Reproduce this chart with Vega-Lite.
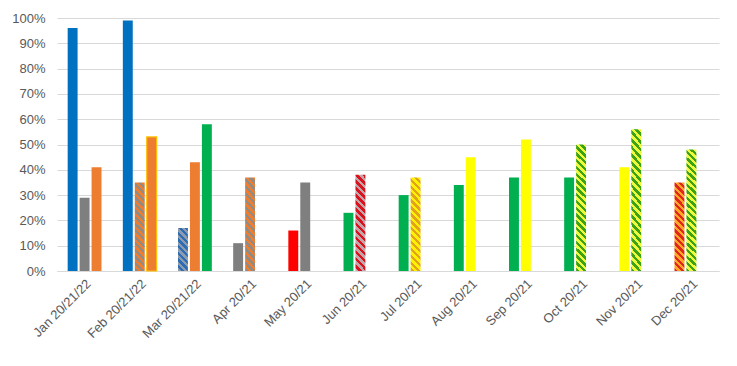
{
  "$schema": "https://vega.github.io/schema/vega-lite/v6.json",
  "width": 662,
  "height": 253,
  "autosize": "none",
  "padding": {"left": 57, "top": 18, "right": 18, "bottom": 95},
  "background": "white",
  "config": {"view": {"stroke": null}, "font": "Liberation Sans"},
  "data": {
    "values": [
      {"month": "Jan 20/21/22", "year": "2020", "value": 0.96, "pattern": "blue"},
      {"month": "Jan 20/21/22", "year": "2021", "value": 0.29, "pattern": "grey"},
      {"month": "Jan 20/21/22", "year": "2022", "value": 0.41, "pattern": "orange"},
      {"month": "Feb 20/21/22", "year": "2020", "value": 0.99, "pattern": "blue"},
      {"month": "Feb 20/21/22", "year": "2021", "value": 0.35, "pattern": "og"},
      {"month": "Feb 20/21/22", "year": "2022", "value": 0.53, "pattern": "orange-outline"},
      {"month": "Mar 20/21/22", "year": "2020", "value": 0.17, "pattern": "bg"},
      {"month": "Mar 20/21/22", "year": "2021", "value": 0.43, "pattern": "orange"},
      {"month": "Mar 20/21/22", "year": "2022", "value": 0.58, "pattern": "green"},
      {"month": "Apr 20/21", "year": "2020", "value": 0.11, "pattern": "grey"},
      {"month": "Apr 20/21", "year": "2021", "value": 0.37, "pattern": "og"},
      {"month": "May 20/21", "year": "2020", "value": 0.16, "pattern": "red"},
      {"month": "May 20/21", "year": "2021", "value": 0.35, "pattern": "grey"},
      {"month": "Jun 20/21", "year": "2020", "value": 0.23, "pattern": "green"},
      {"month": "Jun 20/21", "year": "2021", "value": 0.38, "pattern": "rg"},
      {"month": "Jul 20/21", "year": "2020", "value": 0.30, "pattern": "green"},
      {"month": "Jul 20/21", "year": "2021", "value": 0.37, "pattern": "yo"},
      {"month": "Aug 20/21", "year": "2020", "value": 0.34, "pattern": "green"},
      {"month": "Aug 20/21", "year": "2021", "value": 0.45, "pattern": "yellow"},
      {"month": "Sep 20/21", "year": "2020", "value": 0.37, "pattern": "green"},
      {"month": "Sep 20/21", "year": "2021", "value": 0.52, "pattern": "yellow"},
      {"month": "Oct 20/21", "year": "2020", "value": 0.37, "pattern": "green"},
      {"month": "Oct 20/21", "year": "2021", "value": 0.50, "pattern": "yg"},
      {"month": "Nov 20/21", "year": "2020", "value": 0.41, "pattern": "yellow"},
      {"month": "Nov 20/21", "year": "2021", "value": 0.56, "pattern": "yg"},
      {"month": "Dec 20/21", "year": "2020", "value": 0.35, "pattern": "or"},
      {"month": "Dec 20/21", "year": "2021", "value": 0.48, "pattern": "yg"}
    ]
  },
  "encoding": {
    "x": {
      "field": "month", "type": "nominal",
      "scale": {
        "domain": ["Jan 20/21/22", "Feb 20/21/22", "Mar 20/21/22", "Apr 20/21", "May 20/21", "Jun 20/21", "Jul 20/21", "Aug 20/21", "Sep 20/21", "Oct 20/21", "Nov 20/21", "Dec 20/21"],
        "paddingInner": 0.35, "paddingOuter": 0.175
      },
      "axis": {"title": null, "labelAngle": -45, "labelAlign": "right", "labelBaseline": "top", "ticks": false, "domainColor": "#D9D9D9", "labelColor": "#595959", "labelFontSize": 13, "labelPadding": 6}
    },
    "xOffset": {"field": "year", "type": "nominal", "scale": {"domain": ["2020", "2021", "2022"], "paddingInner": 0.17, "paddingOuter": 0.085}},
    "y": {
      "field": "value", "type": "quantitative",
      "scale": {"domain": [0, 1], "nice": false},
      "axis": {"title": null, "format": ".0%", "values": [0, 0.1, 0.2, 0.3, 0.4, 0.5, 0.6, 0.7, 0.8, 0.9, 1], "domain": false, "ticks": false, "gridColor": "#D9D9D9", "labelColor": "#595959", "labelFontSize": 13, "labelPadding": 12}
    }
  },
  "layer": [
    {
      "transform": [{"filter": {"field": "pattern", "oneOf": ["blue", "grey", "orange", "orange-outline", "green", "red", "yellow"]}}],
      "mark": {"type": "bar", "strokeWidth": 1.2},
      "encoding": {
        "color": {"field": "pattern", "type": "nominal", "legend": null,
          "scale": {"domain": ["blue", "grey", "orange", "orange-outline", "green", "red", "yellow"], "range": ["#0070C0", "#7F7F7F", "#ED7D31", "#ED7D31", "#00B050", "#FF0000", "#FFFF00"]}},
        "stroke": {"condition": {"test": "datum.pattern === 'orange-outline'", "value": "#FFC000"}, "value": null}
      }
    },
    {
      "transform": [{"filter": "datum.pattern === 'og'"}],
      "mark": {"type": "bar", "fill": {"gradient": "linear", "x1": 1, "y1": 0, "x2": 0.8795, "y2": 1.0966, "stops": [
        {"offset": 0, "color": "#ED7D31"}, {"offset": 0.0333, "color": "#ED7D31"}, {"offset": 0.0333, "color": "#958A80"}, {"offset": 0.0667, "color": "#958A80"},
        {"offset": 0.0667, "color": "#ED7D31"}, {"offset": 0.1, "color": "#ED7D31"}, {"offset": 0.1, "color": "#958A80"}, {"offset": 0.1333, "color": "#958A80"},
        {"offset": 0.1333, "color": "#ED7D31"}, {"offset": 0.1667, "color": "#ED7D31"}, {"offset": 0.1667, "color": "#958A80"}, {"offset": 0.2, "color": "#958A80"},
        {"offset": 0.2, "color": "#ED7D31"}, {"offset": 0.2333, "color": "#ED7D31"}, {"offset": 0.2333, "color": "#958A80"}, {"offset": 0.2667, "color": "#958A80"},
        {"offset": 0.2667, "color": "#ED7D31"}, {"offset": 0.3, "color": "#ED7D31"}, {"offset": 0.3, "color": "#958A80"}, {"offset": 0.3333, "color": "#958A80"},
        {"offset": 0.3333, "color": "#ED7D31"}, {"offset": 0.3667, "color": "#ED7D31"}, {"offset": 0.3667, "color": "#958A80"}, {"offset": 0.4, "color": "#958A80"},
        {"offset": 0.4, "color": "#ED7D31"}, {"offset": 0.4333, "color": "#ED7D31"}, {"offset": 0.4333, "color": "#958A80"}, {"offset": 0.4667, "color": "#958A80"},
        {"offset": 0.4667, "color": "#ED7D31"}, {"offset": 0.5, "color": "#ED7D31"}, {"offset": 0.5, "color": "#958A80"}, {"offset": 0.5333, "color": "#958A80"},
        {"offset": 0.5333, "color": "#ED7D31"}, {"offset": 0.5667, "color": "#ED7D31"}, {"offset": 0.5667, "color": "#958A80"}, {"offset": 0.6, "color": "#958A80"},
        {"offset": 0.6, "color": "#ED7D31"}, {"offset": 0.6333, "color": "#ED7D31"}, {"offset": 0.6333, "color": "#958A80"}, {"offset": 0.6667, "color": "#958A80"},
        {"offset": 0.6667, "color": "#ED7D31"}, {"offset": 0.7, "color": "#ED7D31"}, {"offset": 0.7, "color": "#958A80"}, {"offset": 0.7333, "color": "#958A80"},
        {"offset": 0.7333, "color": "#ED7D31"}, {"offset": 0.7667, "color": "#ED7D31"}, {"offset": 0.7667, "color": "#958A80"}, {"offset": 0.8, "color": "#958A80"},
        {"offset": 0.8, "color": "#ED7D31"}, {"offset": 0.8333, "color": "#ED7D31"}, {"offset": 0.8333, "color": "#958A80"}, {"offset": 0.8667, "color": "#958A80"},
        {"offset": 0.8667, "color": "#ED7D31"}, {"offset": 0.9, "color": "#ED7D31"}, {"offset": 0.9, "color": "#958A80"}, {"offset": 0.9333, "color": "#958A80"},
        {"offset": 0.9333, "color": "#ED7D31"}, {"offset": 0.9667, "color": "#ED7D31"}, {"offset": 0.9667, "color": "#958A80"}, {"offset": 1, "color": "#958A80"}
      ]}}
    },
    {
      "transform": [{"filter": "datum.pattern === 'bg'"}],
      "mark": {"type": "bar", "fill": {"gradient": "linear", "x1": 1, "y1": 0, "x2": 0.7281, "y2": 1.1693, "stops": [
        {"offset": 0, "color": "#2E6DB4"}, {"offset": 0.0625, "color": "#2E6DB4"}, {"offset": 0.0625, "color": "#8C9BAE"}, {"offset": 0.125, "color": "#8C9BAE"},
        {"offset": 0.125, "color": "#2E6DB4"}, {"offset": 0.1875, "color": "#2E6DB4"}, {"offset": 0.1875, "color": "#8C9BAE"}, {"offset": 0.25, "color": "#8C9BAE"},
        {"offset": 0.25, "color": "#2E6DB4"}, {"offset": 0.3125, "color": "#2E6DB4"}, {"offset": 0.3125, "color": "#8C9BAE"}, {"offset": 0.375, "color": "#8C9BAE"},
        {"offset": 0.375, "color": "#2E6DB4"}, {"offset": 0.4375, "color": "#2E6DB4"}, {"offset": 0.4375, "color": "#8C9BAE"}, {"offset": 0.5, "color": "#8C9BAE"},
        {"offset": 0.5, "color": "#2E6DB4"}, {"offset": 0.5625, "color": "#2E6DB4"}, {"offset": 0.5625, "color": "#8C9BAE"}, {"offset": 0.625, "color": "#8C9BAE"},
        {"offset": 0.625, "color": "#2E6DB4"}, {"offset": 0.6875, "color": "#2E6DB4"}, {"offset": 0.6875, "color": "#8C9BAE"}, {"offset": 0.75, "color": "#8C9BAE"},
        {"offset": 0.75, "color": "#2E6DB4"}, {"offset": 0.8125, "color": "#2E6DB4"}, {"offset": 0.8125, "color": "#8C9BAE"}, {"offset": 0.875, "color": "#8C9BAE"},
        {"offset": 0.875, "color": "#2E6DB4"}, {"offset": 0.9375, "color": "#2E6DB4"}, {"offset": 0.9375, "color": "#8C9BAE"}, {"offset": 1, "color": "#8C9BAE"}
      ]}}
    },
    {
      "transform": [{"filter": "datum.pattern === 'rg'"}],
      "mark": {"type": "bar", "fill": {"gradient": "linear", "x1": 1, "y1": 0, "x2": 0.8862, "y2": 1.0923, "stops": [
        {"offset": 0, "color": "#D9141E"}, {"offset": 0.0333, "color": "#D9141E"}, {"offset": 0.0333, "color": "#C4A4A8"}, {"offset": 0.0667, "color": "#C4A4A8"},
        {"offset": 0.0667, "color": "#D9141E"}, {"offset": 0.1, "color": "#D9141E"}, {"offset": 0.1, "color": "#C4A4A8"}, {"offset": 0.1333, "color": "#C4A4A8"},
        {"offset": 0.1333, "color": "#D9141E"}, {"offset": 0.1667, "color": "#D9141E"}, {"offset": 0.1667, "color": "#C4A4A8"}, {"offset": 0.2, "color": "#C4A4A8"},
        {"offset": 0.2, "color": "#D9141E"}, {"offset": 0.2333, "color": "#D9141E"}, {"offset": 0.2333, "color": "#C4A4A8"}, {"offset": 0.2667, "color": "#C4A4A8"},
        {"offset": 0.2667, "color": "#D9141E"}, {"offset": 0.3, "color": "#D9141E"}, {"offset": 0.3, "color": "#C4A4A8"}, {"offset": 0.3333, "color": "#C4A4A8"},
        {"offset": 0.3333, "color": "#D9141E"}, {"offset": 0.3667, "color": "#D9141E"}, {"offset": 0.3667, "color": "#C4A4A8"}, {"offset": 0.4, "color": "#C4A4A8"},
        {"offset": 0.4, "color": "#D9141E"}, {"offset": 0.4333, "color": "#D9141E"}, {"offset": 0.4333, "color": "#C4A4A8"}, {"offset": 0.4667, "color": "#C4A4A8"},
        {"offset": 0.4667, "color": "#D9141E"}, {"offset": 0.5, "color": "#D9141E"}, {"offset": 0.5, "color": "#C4A4A8"}, {"offset": 0.5333, "color": "#C4A4A8"},
        {"offset": 0.5333, "color": "#D9141E"}, {"offset": 0.5667, "color": "#D9141E"}, {"offset": 0.5667, "color": "#C4A4A8"}, {"offset": 0.6, "color": "#C4A4A8"},
        {"offset": 0.6, "color": "#D9141E"}, {"offset": 0.6333, "color": "#D9141E"}, {"offset": 0.6333, "color": "#C4A4A8"}, {"offset": 0.6667, "color": "#C4A4A8"},
        {"offset": 0.6667, "color": "#D9141E"}, {"offset": 0.7, "color": "#D9141E"}, {"offset": 0.7, "color": "#C4A4A8"}, {"offset": 0.7333, "color": "#C4A4A8"},
        {"offset": 0.7333, "color": "#D9141E"}, {"offset": 0.7667, "color": "#D9141E"}, {"offset": 0.7667, "color": "#C4A4A8"}, {"offset": 0.8, "color": "#C4A4A8"},
        {"offset": 0.8, "color": "#D9141E"}, {"offset": 0.8333, "color": "#D9141E"}, {"offset": 0.8333, "color": "#C4A4A8"}, {"offset": 0.8667, "color": "#C4A4A8"},
        {"offset": 0.8667, "color": "#D9141E"}, {"offset": 0.9, "color": "#D9141E"}, {"offset": 0.9, "color": "#C4A4A8"}, {"offset": 0.9333, "color": "#C4A4A8"},
        {"offset": 0.9333, "color": "#D9141E"}, {"offset": 0.9667, "color": "#D9141E"}, {"offset": 0.9667, "color": "#C4A4A8"}, {"offset": 1, "color": "#C4A4A8"}
      ]}}
    },
    {
      "transform": [{"filter": "datum.pattern === 'yo'"}],
      "mark": {"type": "bar", "fill": {"gradient": "linear", "x1": 1, "y1": 0, "x2": 0.8836, "y2": 1.094, "stops": [
        {"offset": 0, "color": "#FFF200"}, {"offset": 0.0333, "color": "#FFF200"}, {"offset": 0.0333, "color": "#E3A21A"}, {"offset": 0.0667, "color": "#E3A21A"},
        {"offset": 0.0667, "color": "#FFF200"}, {"offset": 0.1, "color": "#FFF200"}, {"offset": 0.1, "color": "#E3A21A"}, {"offset": 0.1333, "color": "#E3A21A"},
        {"offset": 0.1333, "color": "#FFF200"}, {"offset": 0.1667, "color": "#FFF200"}, {"offset": 0.1667, "color": "#E3A21A"}, {"offset": 0.2, "color": "#E3A21A"},
        {"offset": 0.2, "color": "#FFF200"}, {"offset": 0.2333, "color": "#FFF200"}, {"offset": 0.2333, "color": "#E3A21A"}, {"offset": 0.2667, "color": "#E3A21A"},
        {"offset": 0.2667, "color": "#FFF200"}, {"offset": 0.3, "color": "#FFF200"}, {"offset": 0.3, "color": "#E3A21A"}, {"offset": 0.3333, "color": "#E3A21A"},
        {"offset": 0.3333, "color": "#FFF200"}, {"offset": 0.3667, "color": "#FFF200"}, {"offset": 0.3667, "color": "#E3A21A"}, {"offset": 0.4, "color": "#E3A21A"},
        {"offset": 0.4, "color": "#FFF200"}, {"offset": 0.4333, "color": "#FFF200"}, {"offset": 0.4333, "color": "#E3A21A"}, {"offset": 0.4667, "color": "#E3A21A"},
        {"offset": 0.4667, "color": "#FFF200"}, {"offset": 0.5, "color": "#FFF200"}, {"offset": 0.5, "color": "#E3A21A"}, {"offset": 0.5333, "color": "#E3A21A"},
        {"offset": 0.5333, "color": "#FFF200"}, {"offset": 0.5667, "color": "#FFF200"}, {"offset": 0.5667, "color": "#E3A21A"}, {"offset": 0.6, "color": "#E3A21A"},
        {"offset": 0.6, "color": "#FFF200"}, {"offset": 0.6333, "color": "#FFF200"}, {"offset": 0.6333, "color": "#E3A21A"}, {"offset": 0.6667, "color": "#E3A21A"},
        {"offset": 0.6667, "color": "#FFF200"}, {"offset": 0.7, "color": "#FFF200"}, {"offset": 0.7, "color": "#E3A21A"}, {"offset": 0.7333, "color": "#E3A21A"},
        {"offset": 0.7333, "color": "#FFF200"}, {"offset": 0.7667, "color": "#FFF200"}, {"offset": 0.7667, "color": "#E3A21A"}, {"offset": 0.8, "color": "#E3A21A"},
        {"offset": 0.8, "color": "#FFF200"}, {"offset": 0.8333, "color": "#FFF200"}, {"offset": 0.8333, "color": "#E3A21A"}, {"offset": 0.8667, "color": "#E3A21A"},
        {"offset": 0.8667, "color": "#FFF200"}, {"offset": 0.9, "color": "#FFF200"}, {"offset": 0.9, "color": "#E3A21A"}, {"offset": 0.9333, "color": "#E3A21A"},
        {"offset": 0.9333, "color": "#FFF200"}, {"offset": 0.9667, "color": "#FFF200"}, {"offset": 0.9667, "color": "#E3A21A"}, {"offset": 1, "color": "#E3A21A"}
      ]}}
    },
    {
      "transform": [{"filter": "datum.pattern === 'yg'"}],
      "mark": {"type": "bar", "fill": {"gradient": "linear", "x1": 1, "y1": 0, "x2": 0.9176, "y2": 1.0706, "stops": [
        {"offset": 0, "color": "#EEFA3C"}, {"offset": 0.025, "color": "#EEFA3C"}, {"offset": 0.025, "color": "#3DA314"}, {"offset": 0.05, "color": "#3DA314"},
        {"offset": 0.05, "color": "#EEFA3C"}, {"offset": 0.075, "color": "#EEFA3C"}, {"offset": 0.075, "color": "#3DA314"}, {"offset": 0.1, "color": "#3DA314"},
        {"offset": 0.1, "color": "#EEFA3C"}, {"offset": 0.125, "color": "#EEFA3C"}, {"offset": 0.125, "color": "#3DA314"}, {"offset": 0.15, "color": "#3DA314"},
        {"offset": 0.15, "color": "#EEFA3C"}, {"offset": 0.175, "color": "#EEFA3C"}, {"offset": 0.175, "color": "#3DA314"}, {"offset": 0.2, "color": "#3DA314"},
        {"offset": 0.2, "color": "#EEFA3C"}, {"offset": 0.225, "color": "#EEFA3C"}, {"offset": 0.225, "color": "#3DA314"}, {"offset": 0.25, "color": "#3DA314"},
        {"offset": 0.25, "color": "#EEFA3C"}, {"offset": 0.275, "color": "#EEFA3C"}, {"offset": 0.275, "color": "#3DA314"}, {"offset": 0.3, "color": "#3DA314"},
        {"offset": 0.3, "color": "#EEFA3C"}, {"offset": 0.325, "color": "#EEFA3C"}, {"offset": 0.325, "color": "#3DA314"}, {"offset": 0.35, "color": "#3DA314"},
        {"offset": 0.35, "color": "#EEFA3C"}, {"offset": 0.375, "color": "#EEFA3C"}, {"offset": 0.375, "color": "#3DA314"}, {"offset": 0.4, "color": "#3DA314"},
        {"offset": 0.4, "color": "#EEFA3C"}, {"offset": 0.425, "color": "#EEFA3C"}, {"offset": 0.425, "color": "#3DA314"}, {"offset": 0.45, "color": "#3DA314"},
        {"offset": 0.45, "color": "#EEFA3C"}, {"offset": 0.475, "color": "#EEFA3C"}, {"offset": 0.475, "color": "#3DA314"}, {"offset": 0.5, "color": "#3DA314"},
        {"offset": 0.5, "color": "#EEFA3C"}, {"offset": 0.525, "color": "#EEFA3C"}, {"offset": 0.525, "color": "#3DA314"}, {"offset": 0.55, "color": "#3DA314"},
        {"offset": 0.55, "color": "#EEFA3C"}, {"offset": 0.575, "color": "#EEFA3C"}, {"offset": 0.575, "color": "#3DA314"}, {"offset": 0.6, "color": "#3DA314"},
        {"offset": 0.6, "color": "#EEFA3C"}, {"offset": 0.625, "color": "#EEFA3C"}, {"offset": 0.625, "color": "#3DA314"}, {"offset": 0.65, "color": "#3DA314"},
        {"offset": 0.65, "color": "#EEFA3C"}, {"offset": 0.675, "color": "#EEFA3C"}, {"offset": 0.675, "color": "#3DA314"}, {"offset": 0.7, "color": "#3DA314"},
        {"offset": 0.7, "color": "#EEFA3C"}, {"offset": 0.725, "color": "#EEFA3C"}, {"offset": 0.725, "color": "#3DA314"}, {"offset": 0.75, "color": "#3DA314"},
        {"offset": 0.75, "color": "#EEFA3C"}, {"offset": 0.775, "color": "#EEFA3C"}, {"offset": 0.775, "color": "#3DA314"}, {"offset": 0.8, "color": "#3DA314"},
        {"offset": 0.8, "color": "#EEFA3C"}, {"offset": 0.825, "color": "#EEFA3C"}, {"offset": 0.825, "color": "#3DA314"}, {"offset": 0.85, "color": "#3DA314"},
        {"offset": 0.85, "color": "#EEFA3C"}, {"offset": 0.875, "color": "#EEFA3C"}, {"offset": 0.875, "color": "#3DA314"}, {"offset": 0.9, "color": "#3DA314"},
        {"offset": 0.9, "color": "#EEFA3C"}, {"offset": 0.925, "color": "#EEFA3C"}, {"offset": 0.925, "color": "#3DA314"}, {"offset": 0.95, "color": "#3DA314"},
        {"offset": 0.95, "color": "#EEFA3C"}, {"offset": 0.975, "color": "#EEFA3C"}, {"offset": 0.975, "color": "#3DA314"}, {"offset": 1, "color": "#3DA314"}
      ]}}
    },
    {
      "transform": [{"filter": "datum.pattern === 'or'"}],
      "mark": {"type": "bar", "fill": {"gradient": "linear", "x1": 1, "y1": 0, "x2": 0.8766, "y2": 1.0985, "stops": [
        {"offset": 0, "color": "#FFA722"}, {"offset": 0.0333, "color": "#FFA722"}, {"offset": 0.0333, "color": "#E0281A"}, {"offset": 0.0667, "color": "#E0281A"},
        {"offset": 0.0667, "color": "#FFA722"}, {"offset": 0.1, "color": "#FFA722"}, {"offset": 0.1, "color": "#E0281A"}, {"offset": 0.1333, "color": "#E0281A"},
        {"offset": 0.1333, "color": "#FFA722"}, {"offset": 0.1667, "color": "#FFA722"}, {"offset": 0.1667, "color": "#E0281A"}, {"offset": 0.2, "color": "#E0281A"},
        {"offset": 0.2, "color": "#FFA722"}, {"offset": 0.2333, "color": "#FFA722"}, {"offset": 0.2333, "color": "#E0281A"}, {"offset": 0.2667, "color": "#E0281A"},
        {"offset": 0.2667, "color": "#FFA722"}, {"offset": 0.3, "color": "#FFA722"}, {"offset": 0.3, "color": "#E0281A"}, {"offset": 0.3333, "color": "#E0281A"},
        {"offset": 0.3333, "color": "#FFA722"}, {"offset": 0.3667, "color": "#FFA722"}, {"offset": 0.3667, "color": "#E0281A"}, {"offset": 0.4, "color": "#E0281A"},
        {"offset": 0.4, "color": "#FFA722"}, {"offset": 0.4333, "color": "#FFA722"}, {"offset": 0.4333, "color": "#E0281A"}, {"offset": 0.4667, "color": "#E0281A"},
        {"offset": 0.4667, "color": "#FFA722"}, {"offset": 0.5, "color": "#FFA722"}, {"offset": 0.5, "color": "#E0281A"}, {"offset": 0.5333, "color": "#E0281A"},
        {"offset": 0.5333, "color": "#FFA722"}, {"offset": 0.5667, "color": "#FFA722"}, {"offset": 0.5667, "color": "#E0281A"}, {"offset": 0.6, "color": "#E0281A"},
        {"offset": 0.6, "color": "#FFA722"}, {"offset": 0.6333, "color": "#FFA722"}, {"offset": 0.6333, "color": "#E0281A"}, {"offset": 0.6667, "color": "#E0281A"},
        {"offset": 0.6667, "color": "#FFA722"}, {"offset": 0.7, "color": "#FFA722"}, {"offset": 0.7, "color": "#E0281A"}, {"offset": 0.7333, "color": "#E0281A"},
        {"offset": 0.7333, "color": "#FFA722"}, {"offset": 0.7667, "color": "#FFA722"}, {"offset": 0.7667, "color": "#E0281A"}, {"offset": 0.8, "color": "#E0281A"},
        {"offset": 0.8, "color": "#FFA722"}, {"offset": 0.8333, "color": "#FFA722"}, {"offset": 0.8333, "color": "#E0281A"}, {"offset": 0.8667, "color": "#E0281A"},
        {"offset": 0.8667, "color": "#FFA722"}, {"offset": 0.9, "color": "#FFA722"}, {"offset": 0.9, "color": "#E0281A"}, {"offset": 0.9333, "color": "#E0281A"},
        {"offset": 0.9333, "color": "#FFA722"}, {"offset": 0.9667, "color": "#FFA722"}, {"offset": 0.9667, "color": "#E0281A"}, {"offset": 1, "color": "#E0281A"}
      ]}}
    }
  ]
}
